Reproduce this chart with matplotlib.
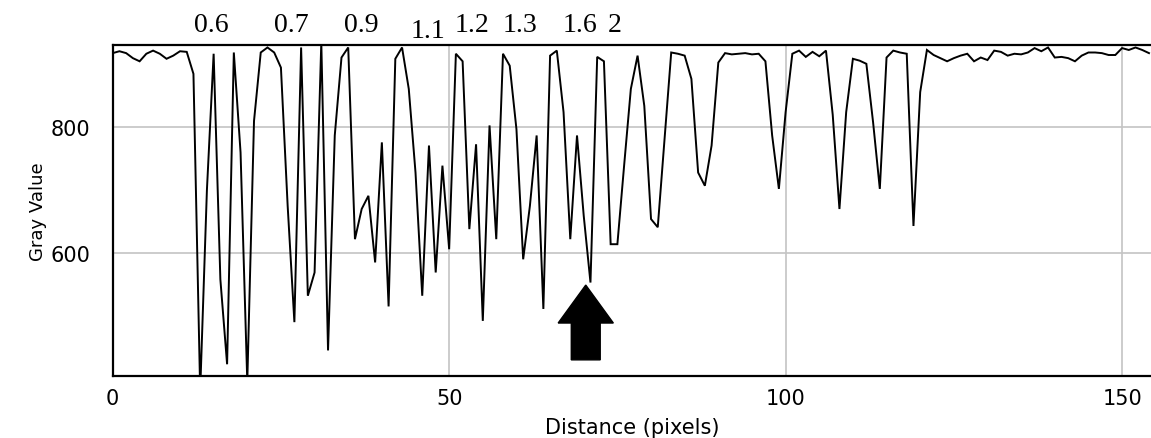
import matplotlib
matplotlib.use("Agg")
import matplotlib.pyplot as plt
import matplotlib.transforms as mtransforms
from matplotlib.patches import FancyArrow
import numpy as np

# ---- data (gray value profile, one value per pixel) ----
distance = list(range(155))
gray_value = [
    918, 921, 918, 910, 905, 917, 922, 917, 909, 914,   # 0-9
    921, 920, 885, 380, 700, 917, 558, 423, 919, 760,   # 10-19
    395, 810, 919, 927, 919, 895, 675, 490, 927, 532,   # 20-29
    569, 935, 445, 787, 911, 927, 622, 670, 691, 585,   # 30-39
    776, 515, 909, 927, 861, 728, 532, 771, 569, 739,   # 40-49
    606, 917, 905, 638, 773, 492, 803, 622, 917, 898,   # 50-59
    797, 590, 675, 787, 511, 914, 922, 824, 622, 787,   # 60-69
    659, 553, 912, 905, 614, 614, 739, 861, 914, 834,   # 70-79
    654, 641, 781, 919, 917, 914, 877, 728, 707, 771,   # 80-89
    903, 918, 916, 917, 918, 916, 917, 905, 787, 702,   # 90-99
    824, 917, 922, 912, 920, 913, 922, 820, 670, 824,   # 100-109
    909, 906, 901, 808, 702, 911, 922, 919, 917, 643,   # 110-119
    856, 923, 915, 910, 905, 910, 914, 917, 905, 911,   # 120-129
    907, 922, 920, 914, 917, 916, 919, 926, 921, 927,   # 130-139
    911, 912, 910, 905, 914, 919, 919, 918, 915, 915,   # 140-149
    926, 923, 927, 923, 918,                            # 150-154
]

x_ticks = [0, 50, 100, 150]
y_ticks = [600, 800]

top_labels = ["0.6", "0.7", "0.9", "1.1", "1.2", "1.3", "1.6", "2"]
top_label_x = [14.6, 26.6, 37.0, 46.8, 53.4, 60.5, 69.4, 74.6]
top_label_lowered = [False, False, False, True, False, False, False, False]

arrow_x = 70.3
arrow_tip = 549
arrow_base = 430

# ---- figure ----
W, H = 1151, 439
fig = plt.figure(figsize=(W / 100, H / 100), dpi=100)
ax = fig.add_axes([112.7 / W, 1 - 376.7 / H, (W - 112.7) / W, (376.7 - 45.7) / H])

ax.plot(distance, gray_value, color="black", linewidth=1.4, solid_joinstyle="miter", zorder=3)

ax.set_xlim(0, 154.3)
ax.set_ylim(404.8, 931.4)
ax.set_xticks(x_ticks)
ax.set_yticks(y_ticks)
ax.grid(True, color="#c4c4c4", linewidth=1.2, zorder=0)
ax.tick_params(axis="both", length=0, labelsize=15, colors="black")
ax.tick_params(axis="x", pad=9)
ax.tick_params(axis="y", pad=16)
for lab in ax.get_yticklabels():
    lab.set_fontsize(15)

for side in ["left", "bottom", "top"]:
    ax.spines[side].set_linewidth(1.6)
    ax.spines[side].set_color("black")
ax.spines["right"].set_visible(False)

ax.set_xlabel("Distance (pixels)", fontsize=15, labelpad=6)
fig.text(38 / W, 1 - 212 / H, "Gray Value", rotation=90, ha="center", va="center", fontsize=13)

# annotation arrow
arr = FancyArrow(arrow_x, arrow_base, 0, arrow_tip - arrow_base, width=4.3, head_width=8.2,
                 head_length=arrow_tip - 488.6, length_includes_head=True,
                 color="black", zorder=4)
ax.add_patch(arr)

# top labels (spatial frequency)
trans = mtransforms.blended_transform_factory(ax.transData, fig.transFigure)
for lab, xp, low in zip(top_labels, top_label_x, top_label_lowered):
    yp = 1 - (31 if low else 25) / H
    fig.text(xp, yp, lab, transform=trans, ha="center", va="center",
             fontsize=20, family="Liberation Serif")

fig.savefig("out.png", dpi=100)
